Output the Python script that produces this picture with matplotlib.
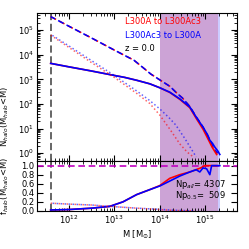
import numpy as np
import matplotlib
matplotlib.use('Agg')
import matplotlib.pyplot as plt

# log10 mass grid and log10 cumulative counts
lm_all = [11.6, 12.0, 12.5, 13.0, 13.23, 13.43, 13.65, 13.8, 14.0, 14.22, 14.37, 14.5, 14.66, 14.8, 14.95, 15.1, 15.2, 15.27]
ln_all_r = [5.55, 5.16, 4.68, 4.19, 3.97, 3.78, 3.45, 3.22, 2.98, 2.72, 2.45, 2.24, 1.90, 1.46, 1.04, 0.50, 0.12, 0.0]
ln_all_b = [5.55, 5.16, 4.68, 4.19, 3.97, 3.78, 3.45, 3.22, 2.98, 2.72, 2.45, 2.24, 1.90, 1.48, 1.07, 0.55, 0.15, 0.0]

lm_sel_r = [11.6, 12.0, 12.5, 13.0, 13.23, 13.5, 13.78, 14.0, 14.22, 14.44, 14.66, 14.8, 14.95, 15.05, 15.15, 15.25]
ln_sel_r = [3.65, 3.51, 3.34, 3.16, 3.08, 2.96, 2.82, 2.66, 2.47, 2.19, 1.85, 1.42, 0.98, 0.62, 0.25, -0.05]
lm_sel_b = [11.6, 12.0, 12.5, 13.0, 13.23, 13.5, 13.78, 14.0, 14.22, 14.44, 14.66, 14.8, 14.95, 15.05, 15.1, 15.16, 15.21, 15.28, 15.32]
ln_sel_b = [3.65, 3.51, 3.34, 3.16, 3.08, 2.96, 2.82, 2.66, 2.48, 2.21, 1.88, 1.47, 1.06, 0.75, 0.53, 0.40, 0.25, 0.08, -0.05]

lm_dot_r = [11.6, 12.0, 12.5, 13.0, 13.5, 13.78, 14.0, 14.22, 14.44, 14.6, 14.75]
ln_dot_r = [4.80, 4.30, 3.68, 3.08, 2.42, 2.02, 1.55, 0.98, 0.38, 0.05, -0.17]
lm_dot_b = [11.6, 12.0, 12.5, 13.0, 13.5, 13.78, 14.0, 14.2, 14.35, 14.55, 14.8]
ln_dot_b = [4.83, 4.36, 3.76, 3.16, 2.52, 2.14, 1.80, 1.45, 1.15, 0.60, -0.15]

# fractions (bottom panel)
lm_f_b = [11.6, 12.0, 12.5, 12.9, 13.19, 13.49, 13.78, 14.0, 14.22, 14.44, 14.66, 14.8, 14.88, 14.95, 15.03, 15.1, 15.14, 15.32]
f_b = [0.02, 0.03, 0.06, 0.10, 0.20, 0.36, 0.47, 0.55, 0.66, 0.77, 0.86, 0.91, 0.86, 0.95, 0.93, 0.80, 1.0, 1.0]
lm_f_r = [11.6, 12.0, 12.5, 12.9, 13.19, 13.49, 13.78, 14.0, 14.22, 14.44, 14.66, 14.77, 14.9, 14.99, 15.25]
f_r = [0.02, 0.03, 0.06, 0.10, 0.20, 0.36, 0.47, 0.56, 0.72, 0.80, 0.86, 0.90, 0.95, 1.0, 1.0]
lm_fd = [11.6, 12.0, 12.5, 12.9, 13.5, 14.0, 14.3, 14.6, 14.75]
fd_r = [0.17, 0.15, 0.13, 0.10, 0.06, 0.03, 0.01, 0.003, 0.0]
fd_b = [0.17, 0.15, 0.13, 0.10, 0.06, 0.035, 0.015, 0.005, 0.0]

m_cut = 4e11
span_r = (1e14, 1.9e15)
span_b = (1e14, 2.1e15)
np_all = 4307
np_half = 509

fs = 6
fig = plt.figure(figsize=(2.49, 2.49), dpi=100)
ax1 = fig.add_axes([0.149, 0.353, 0.803, 0.595])
ax2 = fig.add_axes([0.149, 0.153, 0.803, 0.200], sharex=ax1)

p = lambda a: 10 ** np.array(a)

for ax in (ax1, ax2):
    ax.axvspan(*span_r, color='r', alpha=0.2, lw=0)
    ax.axvspan(*span_b, color='b', alpha=0.2, lw=0)
    ax.axvline(m_cut, color='0.35', ls=(0, (4, 2)), lw=1.3)

dash = (4, 2.2)
dot = (1, 1.6)
ax1.plot(p(lm_all), p(ln_all_r), color='r', ls=(0, dash), lw=1.1)
ax1.plot(p(lm_all), p(ln_all_b), color='b', ls=(0.7, dash), lw=1.1)
ax1.plot(p(lm_sel_r), p(ln_sel_r), color='r', lw=1.2)
ax1.plot(p(lm_sel_b), p(ln_sel_b), color='b', lw=1.2)
ax1.plot(p(lm_dot_r), p(ln_dot_r), color='r', ls=(0, dot), lw=1.1, alpha=0.6)
ax1.plot(p(lm_dot_b), p(ln_dot_b), color='b', ls=(1.3, dot), lw=1.1, alpha=0.6)

ax1.set_xscale('log')
ax1.set_yscale('log')
ax1.set_xlim(2e11, 5e15)
ax1.set_ylim(0.48, 5e5)
ax1.set_ylabel('N$_{halo}$(M$_{halo}$<M)', fontsize=fs)
ax1.yaxis.set_label_coords(-0.13, 0.3)
ax1.tick_params(labelbottom=False)
ax1.text(0.44, 0.94, 'L300A to L300Ac3', color='r', fontsize=fs, transform=ax1.transAxes, va='center')
ax1.text(0.44, 0.85, 'L300Ac3 to L300A', color='b', fontsize=fs, transform=ax1.transAxes, va='center')
ax1.text(0.44, 0.76, 'z = 0.0', color='k', fontsize=fs, transform=ax1.transAxes, va='center')

ax2.axhline(1.0, color='m', ls=(0, dash), lw=1.2)
ax2.plot(p(lm_f_r), f_r, color='r', lw=1.2)
ax2.plot(p(lm_f_b), f_b, color='b', lw=1.2)
ax2.plot(p(lm_fd), fd_r, color='r', ls=(0, dot), lw=1.1, alpha=0.6)
ax2.plot(p(lm_fd), fd_b, color='b', ls=(1.3, dot), lw=1.1, alpha=0.6)
ax2.set_ylim(0, 1.1)
ax2.set_yticks([0.0, 0.2, 0.4, 0.6, 0.8, 1.0])
ax2.set_ylabel('f$_{halo}$(M$_{halo}$<M)', fontsize=fs)
ax2.yaxis.set_label_coords(-0.13, 0.5)
ax2.set_xlabel('M [M$_{\\odot}$]', fontsize=fs, labelpad=2)
ax2.text(0.69, 0.54, 'Np$_{all}$= %d' % np_all, fontsize=fs, transform=ax2.transAxes, va='center')
ax2.text(0.69, 0.30, 'Np$_{0.5}$=  %d' % np_half, fontsize=fs, transform=ax2.transAxes, va='center')

for ax in (ax1, ax2):
    ax.tick_params(which='both', direction='in', top=True, right=True, labelsize=fs, pad=2)
    ax.tick_params(which='major', length=4, width=0.8)
    ax.tick_params(which='minor', length=2, width=0.6)

fig.savefig('out.png', dpi=100)
